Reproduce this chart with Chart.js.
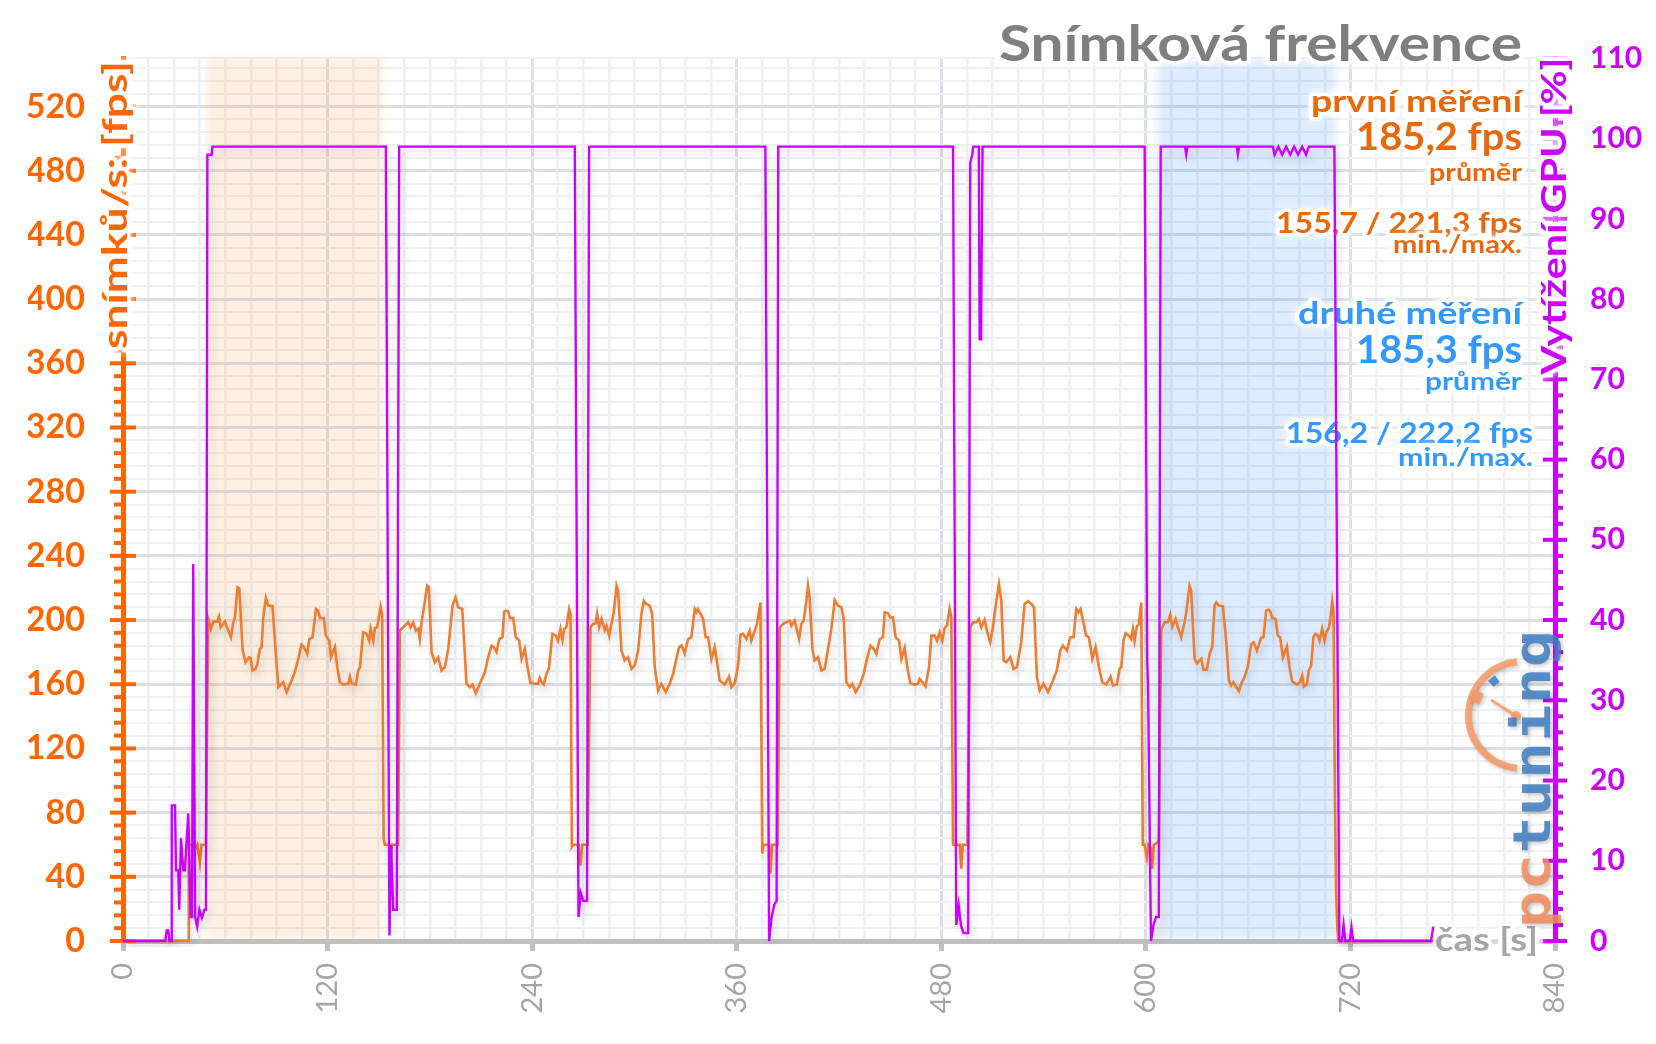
<!DOCTYPE html>
<html>
<head>
<meta charset="utf-8">
<script src="https://cdn.jsdelivr.net/npm/chart.js@4.4.1/dist/chart.umd.min.js"></script>
<style>
html,body{margin:0;padding:0;background:#fff;}
#wrap{width:1656px;height:1044px;position:relative;}
</style>
</head>
<body>
<div id="wrap"><canvas id="c"></canvas></div>
<script>
// ---------------- DATA ----------------
const xTickLabels = [0, 120, 240, 360, 480, 600, 720, 840];
const fpsTickLabels = [0, 40, 80, 120, 160, 200, 240, 280, 320, 360, 400, 440, 480, 520];
const gpuTickLabels = [0, 10, 20, 30, 40, 50, 60, 70, 80, 90, 100, 110];

// measurement windows [s]
const windowStart = [49, 607];
const windowEnd = [152, 711];

// statistics texts
const runNames = ['první měření', 'druhé měření'];
const runAvg = ['185,2 fps', '185,3 fps'];
const runMinMax = ['155,7 / 221,3 fps', '156,2 / 222,2 fps'];

// frame rate [time s, fps]
const fpsSamples = [
[0,0],[38.3,0],[38.6,60],[40.3,60],[42.2,57],[43.6,60],[45.1,49],[46.0,60],[48.6,60],
[50.0,200.7],[51.6,194.5],[53.0,199.0],[55.3,199.0],[56.3,202.1],[57.3,195.5],[59.8,199.0],[61.4,194.5],[63.3,189.3],[64.7,198.6],[65.7,202.1],[67.2,220.4],[68.2,219.8],[70.2,181.0],[71.9,173.7],[73.9,176.8],[74.8,176.4],[76.0,168.6],[77.8,169.6],[78.8,172.7],[80.3,182.0],[81.3,183.1],[82.3,201.7],[83.8,213.7],[85.2,209.0],[87.7,208.6],[89.1,187.2],[91.1,158.2],[93.0,160.3],[94.0,161.3],[96.0,155.1],[98.5,161.3],[100.8,167.5],[102.8,175.8],[104.7,184.7],[106.1,183.1],[108.1,178.9],[109.3,188.2],[111.2,189.3],[113.2,206.9],[114.5,205.9],[115.5,201.3],[117.8,201.3],[119.0,190.3],[121.0,187.2],[122.0,176.8],[124.3,183.1],[125.7,170.6],[127.2,161.3],[129.2,159.8],[132.1,160.3],[133.1,164.8],[134.1,160.7],[136.6,159.8],[138.0,168.6],[139.0,170.6],[140.9,192.4],[142.9,191.4],[144.4,187.2],[145.2,194.5],[146.8,187.2],[147.8,195.1],[149.1,195.5],[151.1,208.4],[152.0,203.8],
[152.9,64],[153.6,60],[156.0,60],[156.9,50],[157.8,60],[161.4,60],
[162.4,193.4],[165.3,196.5],[167.3,198.6],[168.7,195.5],[170.2,198.6],[171.8,193.4],[173.2,194.5],[174.1,188.2],[175.1,198.6],[176.1,204.8],[178.4,221.4],[179.4,220.4],[181.0,180.0],[182.9,173.7],[184.9,176.8],[186.8,168.6],[188.8,170.6],[190.8,182.0],[193.3,209.0],[195.1,214.2],[196.6,207.9],[199.0,206.9],[201.5,160.3],[203.5,158.2],[205.0,159.8],[207.0,154.4],[209.3,160.3],[212.3,167.5],[214.2,176.8],[216.2,184.1],[217.5,183.1],[219.1,180.0],[220.7,188.2],[222.6,189.3],[223.6,205.2],[224.6,205.9],[225.9,205.5],[226.9,201.3],[228.9,201.3],[230.4,189.3],[232.4,187.2],[233.8,175.8],[235.7,182.0],[237.1,171.7],[239.0,160.7],[241.6,160.3],[243.5,160.3],[244.5,164.0],[245.5,161.3],[246.8,159.8],[248.4,166.5],[249.8,169.6],[251.9,191.4],[253.9,190.3],[255.2,187.2],[256.6,194.5],[257.8,187.6],[258.8,194.5],[260.1,195.5],[261.7,206.9],[262.5,203.8],
[263.3,58.7],[264.0,60],[267.3,60],[268.3,47],[269.4,60],[272.6,60],
[274.2,195.5],[275.8,197.6],[277.3,198.0],[278.1,203.8],[279.3,195.5],[280.7,200.7],[281.6,197.6],[282.6,193.8],[283.6,196.5],[285.2,190.3],[286.5,197.6],[287.9,204.8],[289.5,221.4],[290.4,218.3],[292.4,181.0],[294.3,174.8],[296.3,176.8],[298.3,169.6],[300.2,171.7],[302.2,181.0],[304.1,203.8],[305.5,212.1],[307.0,210.0],[309.0,209.0],[310.4,203.8],[311.9,170.6],[313.9,156.1],[315.8,160.3],[318.4,155.1],[320.7,160.3],[322.7,166.5],[324.6,175.8],[326.2,183.1],[327.6,184.1],[329.5,179.3],[331.5,188.2],[333.4,189.3],[335.4,206.9],[336.4,204.8],[337.3,206.9],[340.3,200.7],[341.8,189.3],[343.2,189.3],[345.2,175.8],[347.1,183.1],[348.5,173.7],[350.0,162.3],[353.0,159.8],[355.5,164.8],[356.9,158.2],[358.8,160.7],[360.8,171.7],[362.2,190.9],[363.7,191.4],[365.7,188.2],[367.6,193.4],[368.6,187.2],[370.6,193.4],[371.9,197.6],[373.9,211.0],
[375.0,54.5],[375.8,60],[379.0,60],[379.8,42],[380.8,60],[384.0,60],
[385.2,195.1],[387.2,197.6],[389.1,198.6],[391.1,199.7],[392.1,196.5],[394.0,199.7],[395.4,193.4],[396.6,188.2],[397.9,197.6],[399.3,199.7],[400.9,212.1],[401.8,221.4],[402.8,214.2],[404.4,182.0],[405.7,174.8],[407.7,176.8],[409.7,168.6],[411.6,169.6],[413.6,182.0],[415.5,194.5],[417.5,212.5],[419.4,209.0],[421.4,207.9],[422.8,200.7],[424.3,161.3],[426.3,158.2],[427.8,160.3],[429.8,155.1],[432.1,159.2],[434.5,166.5],[436.4,175.8],[438.4,184.1],[440.0,182.6],[441.9,178.9],[443.9,188.2],[445.8,189.3],[446.8,204.8],[448.8,204.2],[450.1,201.7],[451.7,201.7],[453.2,189.3],[455.2,187.2],[456.6,175.8],[458.5,182.6],[459.9,171.7],[461.8,160.7],[464.4,159.8],[466.3,160.3],[467.3,163.4],[468.9,161.3],[470.8,158.8],[472.8,170.6],[474.2,190.3],[476.1,190.3],[477.5,187.2],[479.0,192.4],[480.6,187.2],[482.0,195.1],[483.3,196.5],[484.9,206.9],[485.9,201.7],
[486.9,60],[487.8,60],[490.8,60],[491.7,45],[492.6,60],[495.3,60],
[497.0,195.5],[498.6,198.6],[500.5,198.6],[502.1,200.7],[503.5,195.5],[505.4,200.1],[506.8,193.4],[508.7,186.2],[510.3,195.5],[511.9,209.0],[513.8,222.5],[515.2,212.1],[516.6,174.8],[518.1,173.7],[520.5,176.8],[522.4,169.6],[524.4,170.6],[526.9,186.2],[528.9,210.0],[530.8,211.7],[532.8,210.0],[534.4,207.9],[536.1,164.4],[537.7,156.1],[540.0,160.3],[542.6,155.1],[545.1,161.3],[547.8,168.6],[549.8,181.0],[551.4,184.1],[553.7,181.0],[555.7,189.3],[557.6,189.3],[559.2,206.9],[560.5,204.8],[561.7,206.9],[563.1,200.1],[565.0,190.3],[566.6,189.3],[568.6,175.8],[570.5,183.1],[572.5,170.6],[574.4,161.3],[576.8,159.8],[579.3,164.8],[580.7,159.2],[583.0,159.8],[584.6,169.6],[585.6,170.6],[586.9,187.2],[588.1,191.8],[590.0,190.3],[591.4,188.2],[592.4,194.5],[593.4,187.2],[594.7,195.9],[595.9,197.6],[597.3,211.0],
[598.2,60],[599.2,60],[600.6,52],[601.5,60],[603.0,58],[603.7,45],[604.6,60],[606.5,61],[607.6,63],
[609.0,193.8],[611.0,198.6],[612.9,198.6],[614.3,203.4],[615.5,195.9],[617.4,200.7],[618.8,195.5],[620.7,189.3],[622.7,198.6],[623.7,204.8],[625.6,221.4],[626.6,218.3],[628.6,175.8],[629.9,173.1],[632.5,175.8],[633.8,169.0],[635.8,169.0],[637.4,178.9],[638.9,183.1],[640.3,209.0],[641.3,211.0],[642.8,209.0],[645.2,208.6],[647.1,187.2],[648.7,162.3],[650.1,159.2],[651.4,161.3],[653.0,158.2],[654.6,155.7],[655.9,160.3],[657.9,164.4],[659.8,171.0],[661.8,185.1],[663.2,186.2],[665.1,181.0],[667.6,188.9],[669.0,189.3],[670.6,205.9],[672.1,206.5],[672.9,205.5],[674.1,201.3],[676.1,200.7],[677.4,190.3],[678.8,189.3],[680.4,176.8],[682.7,183.5],[684.3,170.6],[685.8,161.9],[688.6,159.8],[690.5,161.3],[691.7,165.4],[692.7,158.6],[694.4,159.8],[695.6,168.6],[697.0,171.7],[698.3,189.3],[699.5,191.4],[700.9,190.3],[701.9,187.2],[703.4,194.5],[704.8,187.2],[705.8,192.4],[707.3,195.1],[708.1,199.7],[709.3,211.7],[710.1,204.8],
[710.9,90],[711.6,30],[712.3,8],[713.0,0],[768.6,0]
];

// GPU utilisation [time s, %]
const gpuSamples = [
[0,0],[24.8,0],[25.6,1.3],[26.6,1.3],[27.2,0],[28.2,0],[28.6,16.9],[30.5,16.9],[31.1,8.8],[32.4,8.8],[33.0,3.9],[34.0,12.8],[35.4,8.8],[36.3,8.8],[38.3,15.9],[39.7,3],[40.5,3],[41.2,47],[42.3,3],[43.5,1.8],[44.8,3.9],[46.3,2.9],[47.8,3.9],[48.7,3.9],[49.5,98],[52.0,98],[52.5,99],
[154.2,99],[156.3,0.7],[157.3,12],[158.5,3.9],[160.6,3.9],[162.0,99],
[265.0,99],[267.2,3],[268.5,6],[270.0,5],[272.2,5],[273.4,99],
[376.8,99],[379.0,0],[380.5,3],[382.0,4.5],[383.4,5],[384.4,99],
[486.9,99],[488.8,2],[490.2,4.5],[491.5,2],[493.0,1],[495.8,1],[497.0,97],[498.2,98],[498.7,99],[502.0,99],[502.5,75],[503.3,75],[504.2,99],
[599.3,99],[600.8,35],[601.3,32],[603.0,0],[604.5,2],[606.0,3],[607.6,3],[608.7,99],
[623.0,99],[623.7,98],[624.4,99],[653.3,99],[654.0,98],[654.7,99],
[674.5,99],[675.5,98],[677.7,99],[680.0,98],[682.3,99],[684.7,98],[687.0,99],[689.3,98],[691.7,99],[694.0,98],[695.6,99],
[710.6,99],[713.5,0],[715.0,0],[716.0,2],[717.0,0],[719.6,0],[720.6,1.7],[721.6,0],[767.3,0],[768.6,1.8]
];

// ---------------- STYLE ----------------
const ORANGE_AXIS = '#ff6600';
const PURPLE = '#cc00ff';
const ORANGE_LINE = '#ed7d31';
const TXT_ORANGE = '#e8680c';
const TXT_BLUE = '#3399ff';
const GREY_AXIS = '#c0c0c0';
const GREY_TXT = '#a6a6a6';
const FONT = 'Lato, "Open Sans", sans-serif';
const windowFill = ['rgba(248,180,120,0.22)', 'rgba(100,170,250,0.22)'];

function glowText(ctx, text, x, y, size, weight, color, width, align, rot) {
  ctx.save();
  ctx.font = weight + ' ' + size + 'px ' + FONT;
  ctx.textAlign = align || 'right';
  ctx.textBaseline = 'alphabetic';
  ctx.translate(x, y);
  if (rot) ctx.rotate(rot);
  if (width) {
    const w = ctx.measureText(text).width;
    if (w > 0) ctx.scale(width / w, 1);
  }
  ctx.lineJoin = 'round';
  ctx.strokeStyle = 'rgba(255,255,255,0.95)';
  ctx.lineWidth = 7;
  ctx.shadowColor = '#ffffff';
  ctx.shadowBlur = 8;
  ctx.strokeText(text, 0, 0);
  ctx.shadowBlur = 0;
  ctx.fillStyle = color;
  ctx.fillText(text, 0, 0);
  ctx.restore();
}

const decor = {
  id: 'decor',
  beforeDatasetsDraw(chart) {
    const {ctx, chartArea: a, scales} = chart;
    const xs = scales.x, ys = scales.y, y2 = scales.y2;
    // measurement windows
    ctx.save();
    ctx.filter = 'blur(5px)';
    for (let i = 0; i < windowStart.length; i++) {
      const x0 = xs.getPixelForValue(windowStart[i]);
      const x1 = xs.getPixelForValue(windowEnd[i]);
      ctx.fillStyle = windowFill[i];
      ctx.fillRect(x0, a.top, x1 - x0, a.bottom - a.top - 2);
    }
    ctx.restore();

    // axis tick marks
    ctx.save();
    ctx.fillStyle = ORANGE_AXIS;
    for (let v = 0; v <= ys.max; v += 8) {
      const y = ys.getPixelForValue(v);
      if (v % 40 === 0) ctx.fillRect(a.left - 13, y - 2, 26, 4);
      else ctx.fillRect(a.left - 9, y - 2, 12, 4);
    }
    ctx.fillStyle = PURPLE;
    for (let v = 0; v <= y2.max; v += 2) {
      const y = y2.getPixelForValue(v);
      if (v % 10 === 0) ctx.fillRect(a.right - 12, y - 2, 24, 4);
      else ctx.fillRect(a.right - 2, y - 2, 10, 4);
    }
    ctx.restore();

    // title
    glowText(ctx, 'Snímková frekvence', 1522, 61, 49, 'bold', '#7f7f7f', 523, 'right');
    // statistics
    glowText(ctx, runNames[0], 1522, 112, 31, 'bold', TXT_ORANGE, 211, 'right');
    glowText(ctx, runAvg[0], 1522, 150, 39, 'bold', TXT_ORANGE, 166, 'right');
    glowText(ctx, 'průměr', 1522, 181, 25, 'bold', TXT_ORANGE, 93, 'right');
    glowText(ctx, runMinMax[0], 1522, 233, 29, 'bold', TXT_ORANGE, 246, 'right');
    glowText(ctx, 'min./max.', 1522, 253, 25, 'bold', TXT_ORANGE, 129, 'right');
    glowText(ctx, runNames[1], 1522, 324, 31, 'bold', TXT_BLUE, 224, 'right');
    glowText(ctx, runAvg[1], 1522, 363, 39, 'bold', TXT_BLUE, 166, 'right');
    glowText(ctx, 'průměr', 1522, 390, 25, 'bold', TXT_BLUE, 97, 'right');
    glowText(ctx, runMinMax[1], 1533, 443, 29, 'bold', TXT_BLUE, 247, 'right');
    glowText(ctx, 'min./max.', 1533, 466, 25, 'bold', TXT_BLUE, 135, 'right');

    // axis titles
    glowText(ctx, 'snímků/s: [fps]', 127, 205, 34, 'bold', ORANGE_AXIS, 288, 'center', -Math.PI / 2);
    glowText(ctx, 'Vytížení GPU [%]', 1566, 216, 35, 'bold', PURPLE, 317, 'center', -Math.PI / 2);
    glowText(ctx, 'čas [s]', 1538, 951, 33, 'bold', GREY_TXT, 103, 'right');
  },
  beforeDatasetDraw(chart) {
    const ctx = chart.ctx;
    ctx.save();
    ctx.shadowColor = 'rgba(0,0,0,0.16)';
    ctx.shadowBlur = 9;
    ctx.shadowOffsetX = 3;
    ctx.shadowOffsetY = 5;
  },
  afterDatasetDraw(chart) {
    chart.ctx.restore();
  },
  afterDraw(chart) {
    const ctx = chart.ctx;
    ctx.save();
    ctx.globalAlpha = 0.85;
    ctx.shadowColor = 'rgba(0,0,0,0.25)';
    ctx.shadowBlur = 4;
    ctx.shadowOffsetX = 2;
    ctx.shadowOffsetY = 2;
    // gauge
    ctx.strokeStyle = '#f39a66';
    ctx.lineWidth = 7;
    ctx.beginPath(); ctx.arc(1522, 715, 53.5, Math.PI * 0.53, Math.PI * 1.47); ctx.stroke();
    ctx.lineWidth = 11;
    ctx.beginPath(); ctx.arc(1522, 715, 49, Math.PI * 1.08, Math.PI * 1.16); ctx.stroke();
    ctx.strokeStyle = '#3f7fc0';
    ctx.lineWidth = 8;
    ctx.beginPath(); ctx.arc(1522, 715, 44, Math.PI * 1.25, Math.PI * 1.31); ctx.stroke();
    ctx.strokeStyle = '#f39a66';
    ctx.lineWidth = 3;
    ctx.beginPath(); ctx.moveTo(1491, 700); ctx.lineTo(1516, 716); ctx.stroke();
    ctx.fillStyle = '#f39a66';
    ctx.beginPath(); ctx.arc(1516, 716, 5, 0, Math.PI * 2); ctx.fill();
    // wordmark
    ctx.translate(1550, 928);
    ctx.rotate(-Math.PI / 2);
    ctx.font = 'bold 51px "DejaVu Sans Mono", monospace';
    ctx.textAlign = 'left';
    ctx.textBaseline = 'alphabetic';
    const full = ctx.measureText('pctuning').width;
    ctx.scale(298 / full, 1);
    ctx.fillStyle = '#f08c5a';
    ctx.fillText('pc', 0, 0);
    const w = ctx.measureText('pc').width;
    ctx.fillStyle = '#3f7fc0';
    ctx.fillText('tuning', w, 0);
    ctx.restore();
  }
};

new Chart(document.getElementById('c'), {
  type: 'line',
  data: {
    datasets: [
      {
        label: 'Vytížení GPU [%]',
        data: gpuSamples.map(p => ({x: p[0], y: p[1]})),
        yAxisID: 'y2',
        borderColor: PURPLE,
        borderWidth: 2.4,
        pointRadius: 0,
        tension: 0,
        fill: false,
        clip: 6
      },
      {
        label: 'snímků/s [fps]',
        data: fpsSamples.map(p => ({x: p[0], y: p[1]})),
        yAxisID: 'y',
        borderColor: ORANGE_LINE,
        borderWidth: 2.6,
        pointRadius: 0,
        tension: 0,
        fill: false,
        clip: 6
      }
    ]
  },
  options: {
    responsive: true,
    maintainAspectRatio: false,
    animation: false,
    devicePixelRatio: 1,
    layout: {padding: {left: 28, right: 0, top: 57, bottom: 0}},
    plugins: {legend: {display: false}, tooltip: {enabled: false}, title: {display: false}},
    scales: {
      x: {
        type: 'linear', min: 0, max: 840,
        afterFit(s) { s.height = 103; },
        ticks: {
          stepSize: 15, autoSkip: false, minRotation: 90, maxRotation: 90, padding: 12,
          color: GREY_TXT, font: {family: FONT, size: 29},
          callback: v => xTickLabels.includes(v) ? String(v) : ''
        },
        grid: {
          color: c => (c.tick && c.tick.value % 120 === 0) ? '#dcdfe6' : '#eef0f4',
          lineWidth: c => (c.tick && c.tick.value % 120 === 0) ? 3 : 2.5,
          drawTicks: true, tickLength: 10,
          tickColor: c => (c.tick && c.tick.value % 120 === 0) ? GREY_AXIS : 'rgba(0,0,0,0)',
          tickWidth: 5
        },
        border: {color: GREY_AXIS, width: 5}
      },
      y: {
        position: 'left', min: 0, max: 550, bounds: 'data',
        afterFit(s) { s.width = 95; },
        ticks: {
          stepSize: 8, autoSkip: false, includeBounds: false, padding: 38,
          color: ORANGE_AXIS, font: {family: FONT, size: 34, weight: 'bold'},
          callback: v => fpsTickLabels.includes(v) ? String(v) : ''
        },
        grid: {
          drawTicks: false,
          color: c => (c.tick && c.tick.value % 40 === 0) ? '#dcdfe6' : '#eef0f4',
          lineWidth: c => (c.tick && c.tick.value % 40 === 0) ? 3 : 2
        },
        border: {color: ORANGE_AXIS, width: 5}
      },
      y2: {
        position: 'right', min: 0, max: 110,
        afterFit(s) { s.width = 101; },
        ticks: {
          stepSize: 2, autoSkip: false, padding: 35,
          color: PURPLE, font: {family: FONT, size: 30, weight: 'bold'},
          callback: v => gpuTickLabels.includes(v) ? String(v) : ''
        },
        grid: {drawOnChartArea: false, drawTicks: false},
        border: {color: PURPLE, width: 5}
      }
    }
  },
  plugins: [decor]
});
</script>
</body>
</html>
